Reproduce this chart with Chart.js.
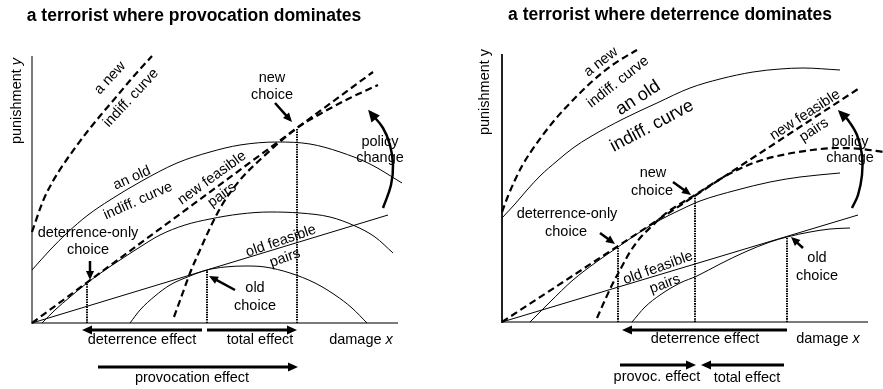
<!DOCTYPE html>
<html>
<head>
<meta charset="utf-8">
<script src="https://cdn.jsdelivr.net/npm/chart.js@4/dist/chart.umd.min.js"></script>
<style>
body { margin: 0; background: #fff; }
#wrap { position: relative; width: 883px; height: 389px; }
#left { position: absolute; left: 0; top: 0; }
#right { position: absolute; left: 441px; top: 0; }
</style>
</head>
<body>
<div id="wrap">
<canvas id="left" width="441" height="389"></canvas>
<canvas id="right" width="442" height="389"></canvas>
</div>
<script>
// left panel: a terrorist where provocation dominates  ([damage, punishment])
const newIndiffL = [[0,91],[11,122],[21,142],[31,158],[43,175],[55,191],[68,207],[85,227],[101,246],[120,267]];
const oldIndiffL = [[0,53],[18,73],[35,90],[56,108],[78,123],[108,141],[145,160],[178,171],[208,178],[245,181],[278,179],[308,171],[338,159],[370,140]];
const detIndiffL = [[10,0],[23,13],[38,26],[55,40],[73,53],[88,63],[108,76],[128,88],[153,98],[178,104],[208,109],[238,111],[268,110],[298,106],[323,97],[343,86],[361,70]];
const newFeasL = [[0,0],[341,251]];
const shiftIndiffL = [[142,6],[150,28],[158,50],[168,73],[178,95],[190,118],[208,143],[231,166],[265,195],[288,209],[318,225],[346,238]];
const oldFeasL = [[0,0],[356,108]];
const lowIndiffL = [[98,0],[108,13],[123,27],[138,38],[158,47],[175,53],[193,56],[213,57],[233,56],[258,50],[283,40],[303,28],[320,15],[335,0]];
const policyL = [[351,115],[359,138],[361,158],[358,178],[351,195],[338,211]];
const detChoiceL = [55,40], oldChoiceL = [175,53], newChoiceL = [265,195];

// right panel: a terrorist where deterrence dominates
const newIndiffR = [[0,110],[6,126],[13,142],[20,156],[28,169],[51,200],[75,226],[101,250],[118,262],[135,272]];
const oldIndiffR = [[0,104],[13,118],[25,132],[38,146],[55,161],[71,174],[88,185],[121,203],[155,219],[188,234],[218,243],[251,250],[278,253],[301,254],[338,252]];
const detIndiffR = [[28,0],[48,20],[71,42],[93,59],[116,75],[138,90],[158,102],[178,112],[198,121],[235,132],[268,140],[298,145],[338,149]];
const newFeasR = [[0,0],[356,233]];
const shiftIndiffR = [[95,4],[103,22],[110,37],[118,52],[128,70],[138,84],[150,96],[163,108],[178,118],[193,127],[215,141],[235,152],[260,162],[285,168],[310,172],[335,174],[360,173],[381,170]];
const oldFeasR = [[0,0],[356,107]];
const lowIndiffR = [[130,0],[143,15],[158,27],[178,39],[195,46],[218,58],[243,70],[268,80],[285,85],[308,90],[328,93],[348,94]];
const policyR = [[350,114],[356,127],[360,147],[360,167],[355,187],[346,202],[338,210]];
const detChoiceR = [116,75], oldChoiceR = [285,85], newChoiceR = [193,127];

const FONT = '"Liberation Sans", Arial, sans-serif';

function curve(pts, extra) {
    return Object.assign({
        data: pts.map(p => ({x: p[0], y: p[1]})),
        showLine: true, pointRadius: 0, borderColor: '#000', borderWidth: 1,
        fill: false, clip: false, cubicInterpolationMode: 'monotone'
    }, extra);
}
const dashed = {borderWidth: 2.2, borderDash: [7, 4]};
const dotted = p => curve([[p[0], 0], p], {borderWidth: 2, borderDash: [1.5, 1]});

function arrow(ctx, x1, y1, x2, y2, w, h) {
    const a = Math.atan2(y2 - y1, x2 - x1);
    ctx.lineWidth = w;
    ctx.beginPath();
    ctx.moveTo(x1, y1);
    ctx.lineTo(x2 - Math.cos(a) * h * 0.8, y2 - Math.sin(a) * h * 0.8);
    ctx.stroke();
    head(ctx, x2, y2, a, h);
}
function head(ctx, x, y, a, h) {
    ctx.beginPath();
    ctx.moveTo(x, y);
    ctx.lineTo(x - h * Math.cos(a) + h * 0.45 * Math.sin(a), y - h * Math.sin(a) - h * 0.45 * Math.cos(a));
    ctx.lineTo(x - h * Math.cos(a) - h * 0.45 * Math.sin(a), y - h * Math.sin(a) + h * 0.45 * Math.cos(a));
    ctx.closePath();
    ctx.fill();
}

// draws labels and arrows through the chart's scales
function sketch(cfg) {
    return {
        id: 'sketch',
        afterDatasetsDraw(chart) {
            const ctx = chart.ctx, sx = chart.scales.x, sy = chart.scales.y;
            const px = v => sx.getPixelForValue(v), py = v => sy.getPixelForValue(v);
            ctx.save();
            ctx.fillStyle = '#000';
            ctx.strokeStyle = '#000';
            cfg.pointers.forEach(a => arrow(ctx, px(a[0]), py(a[1]), px(a[2]), py(a[3]), 2.5, 9));
            cfg.effects.forEach(e => arrow(ctx, px(e[0]), py(e[2]), px(e[1]), py(e[2]), 2.8, 10));
            const p = cfg.policy, n = p.length;
            const a = Math.atan2(py(p[n-1][1]) - py(p[n-2][1]), px(p[n-1][0]) - px(p[n-2][0]));
            head(ctx, px(p[n-1][0]) + Math.cos(a) * 3, py(p[n-1][1]) + Math.sin(a) * 3, a, 12);
            ctx.textAlign = 'left';
            ctx.textBaseline = 'middle';
            cfg.notes.forEach(t => {
                const font = (t.b ? 'bold ' : '') + (t.s || 14.5) + 'px ' + FONT;
                ctx.font = font;
                const w1 = ctx.measureText(t.t).width;
                let w2 = 0, sp = 0;
                const ifont = 'italic ' + (t.s || 14.5) + 'px ' + FONT;
                if (t.i) {
                    sp = ctx.measureText(' ').width;
                    ctx.font = ifont;
                    w2 = ctx.measureText(t.i).width;
                }
                ctx.save();
                ctx.translate(px(t.x), py(t.y));
                ctx.rotate((t.r || 0) * Math.PI / 180);
                const x0 = -(w1 + sp + w2) / 2;
                ctx.font = font;
                ctx.fillText(t.t, x0, 0);
                if (t.i) {
                    ctx.font = ifont;
                    ctx.fillText(t.i, x0 + w1 + sp, 0);
                }
                ctx.restore();
            });
            ctx.restore();
        }
    };
}

function axis(max, color, width) {
    return {
        type: 'linear', min: 0, max: max,
        ticks: {display: false},
        grid: {display: false, drawTicks: false},
        border: {display: true, color: color, width: width}
    };
}

function panel(id, datasets, xMax, yMax, pad, yColor, cfg) {
    return new Chart(document.getElementById(id), {
        type: 'scatter',
        data: {datasets: datasets},
        options: {
            responsive: false,
            devicePixelRatio: 1,
            animation: false,
            layout: {padding: pad},
            plugins: {legend: {display: false}, tooltip: {enabled: false}},
            scales: {x: axis(xMax, '#7a7a7a', 2), y: axis(yMax, yColor, 2)}
        },
        plugins: [sketch(cfg)]
    });
}

panel('left', [
    curve(newIndiffL, dashed),
    curve(oldIndiffL),
    curve(detIndiffL),
    curve(newFeasL, dashed),
    curve(shiftIndiffL, dashed),
    curve(oldFeasL),
    curve(lowIndiffL),
    curve(policyL, {borderWidth: 2.5, tension: 0.4, cubicInterpolationMode: 'default'}),
    dotted(detChoiceL), dotted(oldChoiceL), dotted(newChoiceL)
], 365, 266, {left: 32, top: 57, right: 44, bottom: 66}, '#7a7a7a', {
    policy: policyL,
    pointers: [[243,220,260,201],[58,62,58,43],[203,33,177,47]],
    effects: [
        [oldChoiceL[0] - 5, detChoiceL[0] - 5, -7],
        [oldChoiceL[0], newChoiceL[0], -7],
        [detChoiceL[0] + 11, newChoiceL[0] + 1, -44]
    ],
    notes: [
        {t: 'a terrorist where provocation dominates', x: 162, y: 307, b: true, s: 17.5},
        {t: 'deterrence effect', x: 110, y: -17},
        {t: 'total effect', x: 228, y: -17},
        {t: 'damage', i: 'x', x: 329, y: -17},
        {t: 'provocation effect', x: 160, y: -55},
        {t: 'punishment', i: 'y', x: -15, y: 222, r: -90},
        {t: 'new', x: 240, y: 245}, {t: 'choice', x: 240, y: 228},
        {t: 'policy', x: 348, y: 181}, {t: 'change', x: 348, y: 165},
        {t: 'deterrence-only', x: 56, y: 90}, {t: 'choice', x: 56, y: 73},
        {t: 'old', x: 223, y: 35}, {t: 'choice', x: 223, y: 17},
        {t: 'a new', x: 78, y: 245, r: -47}, {t: 'indiff. curve', x: 99, y: 225, r: -47},
        {t: 'an old', x: 100, y: 145, r: -24}, {t: 'indiff. curve', x: 106, y: 122, r: -24},
        {t: 'new feasible', x: 180, y: 145, r: -36}, {t: 'pairs', x: 190, y: 128, r: -36},
        {t: 'old feasible', x: 249, y: 82, r: -19}, {t: 'pairs', x: 253, y: 65, r: -19}
    ]
});

panel('right', [
    curve(newIndiffR, dashed),
    curve(oldIndiffR),
    curve(detIndiffR),
    curve(newFeasR, dashed),
    curve(shiftIndiffR, dashed),
    curve(oldFeasR),
    curve(lowIndiffR),
    curve(policyR, {borderWidth: 2.5, tension: 0.4, cubicInterpolationMode: 'default'}),
    dotted(detChoiceR), dotted(oldChoiceR), dotted(newChoiceR)
], 365, 267, {left: 61, top: 55, right: 16, bottom: 67}, '#222', {
    policy: policyR,
    pointers: [[171,140,189,127],[98,89,113,78],[301,74,289,85]],
    effects: [
        [oldChoiceR[0], detChoiceR[0] + 4, -8],
        [detChoiceR[0] + 2, newChoiceR[0] + 1, -43],
        [oldChoiceR[0] - 3, newChoiceR[0] + 6, -43]
    ],
    notes: [
        {t: 'a terrorist where deterrence dominates', x: 168, y: 307, b: true, s: 17.5},
        {t: 'deterrence effect', x: 203, y: -17},
        {t: 'damage', i: 'x', x: 326, y: -17},
        {t: 'provoc. effect', x: 155, y: -55},
        {t: 'total effect', x: 245, y: -56},
        {t: 'punishment y', x: -17, y: 230, r: -90},
        {t: 'new', x: 151, y: 149}, {t: 'choice', x: 150, y: 131},
        {t: 'policy', x: 348, y: 180}, {t: 'change', x: 348, y: 164},
        {t: 'deterrence-only', x: 65, y: 108}, {t: 'choice', x: 64, y: 90},
        {t: 'old', x: 315, y: 64}, {t: 'choice', x: 315, y: 46},
        {t: 'a new', x: 99, y: 260, r: -38}, {t: 'indiff. curve', x: 116, y: 240, r: -38},
        {t: 'an old', x: 136, y: 224, r: -33, s: 18}, {t: 'indiff. curve', x: 150, y: 196, r: -28, s: 18},
        {t: 'new feasible', x: 303, y: 207, r: -33}, {t: 'pairs', x: 312, y: 192, r: -33},
        {t: 'old feasible', x: 156, y: 54, r: -20}, {t: 'pairs', x: 163, y: 38, r: -20}
    ]
});
</script>
</body>
</html>
